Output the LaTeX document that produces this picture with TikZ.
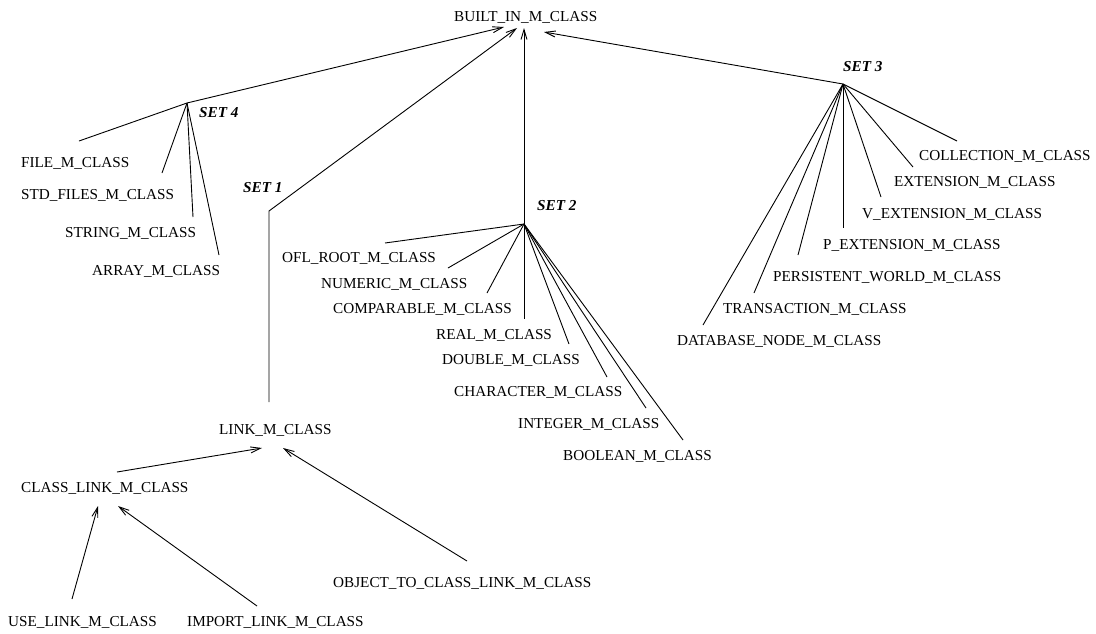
\documentclass[tikz,border=0pt]{standalone}
\usepackage{fontspec}
\setmainfont{Liberation Serif}
\usetikzlibrary{arrows.meta}
\begin{document}
\begin{tikzpicture}[x=1pt,y=-1pt,
  cls/.style={anchor=base west,inner sep=0pt,font=\fontsize{15.2}{18}\selectfont},
  setlbl/.style={cls,font=\fontsize{15.2}{18}\selectfont\bfseries\itshape},
  edge/.style={line width=0.9pt},
  arr/.style={edge,-{Straight Barb[length=10pt,width=6pt]}}]
\useasboundingbox (0,0) rectangle (1096,633);

% class names
\node[cls] (built) at (454,21) {BUILT\_IN\_M\_CLASS};
\node[cls] (file) at (21,167) {FILE\_M\_CLASS};
\node[cls] (stdfiles) at (21,199) {STD\_FILES\_M\_CLASS};
\node[cls] (string) at (65,237) {STRING\_M\_CLASS};
\node[cls] (array) at (92,275) {ARRAY\_M\_CLASS};
\node[cls] (link) at (219,434) {LINK\_M\_CLASS};
\node[cls] (classlink) at (21,492) {CLASS\_LINK\_M\_CLASS};
\node[cls] (uselink) at (8,626) {USE\_LINK\_M\_CLASS};
\node[cls] (importlink) at (187,626) {IMPORT\_LINK\_M\_CLASS};
\node[cls] (objlink) at (333,587) {OBJECT\_TO\_CLASS\_LINK\_M\_CLASS};
\node[cls] (oflroot) at (282,262) {OFL\_ROOT\_M\_CLASS};
\node[cls] (numeric) at (321,288) {NUMERIC\_M\_CLASS};
\node[cls] (comparable) at (333,313) {COMPARABLE\_M\_CLASS};
\node[cls] (real) at (436,339) {REAL\_M\_CLASS};
\node[cls] (double) at (442,364) {DOUBLE\_M\_CLASS};
\node[cls] (character) at (454,396) {CHARACTER\_M\_CLASS};
\node[cls] (integer) at (518,428) {INTEGER\_M\_CLASS};
\node[cls] (boolean) at (563,460) {BOOLEAN\_M\_CLASS};
\node[cls] (collection) at (919,160) {COLLECTION\_M\_CLASS};
\node[cls] (extension) at (894,186) {EXTENSION\_M\_CLASS};
\node[cls] (vext) at (862,218) {V\_EXTENSION\_M\_CLASS};
\node[cls] (pext) at (823,249) {P\_EXTENSION\_M\_CLASS};
\node[cls] (persistent) at (773,281) {PERSISTENT\_WORLD\_M\_CLASS};
\node[cls] (transaction) at (723,313) {TRANSACTION\_M\_CLASS};
\node[cls] (database) at (677,345) {DATABASE\_NODE\_M\_CLASS};

% set labels
\node[setlbl] (set4) at (199,117) {SET 4};
\node[setlbl] (set1) at (243,192) {SET 1};
\node[setlbl] (set2) at (537,210) {SET 2};
\node[setlbl] (set3) at (843,71) {SET 3};

% junction points
\coordinate (j4) at (187,103);
\coordinate (j1) at (269,211);
\coordinate (j2) at (524,224);
\coordinate (j3) at (843,84);

% arrow tips under BUILT_IN_M_CLASS
\coordinate (t4) at (504,27);
\coordinate (t1) at (517,28);
\coordinate (t2) at (524,28);
\coordinate (t3) at (544,32);

% line ends near the member classes
\coordinate (fileE) at (79,141);
\coordinate (stdfilesE) at (162,173);
\coordinate (stringE) at (193,217);
\coordinate (arrayE) at (219,255);
\coordinate (linkTop) at (269,402);
\coordinate (oflrootE) at (385,243);
\coordinate (numericE) at (448,268);
\coordinate (comparableE) at (487,293);
\coordinate (realE) at (524,319);
\coordinate (doubleE) at (569,344);
\coordinate (characterE) at (607,377);
\coordinate (integerE) at (646,408);
\coordinate (booleanE) at (683,440);
\coordinate (collectionE) at (957,141);
\coordinate (extensionE) at (913,167);
\coordinate (vextE) at (881,197);
\coordinate (pextE) at (843,228);
\coordinate (persistentE) at (798,255);
\coordinate (transactionE) at (754,293);
\coordinate (databaseE) at (703,325);

% link hierarchy ends
\coordinate (linkInL) at (262,448);
\coordinate (linkInR) at (283,448);
\coordinate (classlinkOut) at (117,472);
\coordinate (objlinkOut) at (467,561);
\coordinate (classlinkInL) at (98,506);
\coordinate (classlinkInR) at (118,506);
\coordinate (uselinkOut) at (72,599);
\coordinate (importlinkOut) at (257,606);

% SET 4
\draw[edge] (fileE) -- (j4);
\draw[arr] (j4) -- (t4);
\draw[edge] (stdfilesE) -- (j4);
\draw[edge] (stringE) -- (j4);
\draw[edge] (arrayE) -- (j4);

% SET 1
\draw[arr] (linkTop) -- (j1) -- (t1);

% SET 2
\draw[arr] (j2) -- (t2);
\foreach \e in {oflrootE,numericE,comparableE,realE,doubleE,characterE,integerE,booleanE}
  \draw[edge] (j2) -- (\e);

% SET 3
\draw[arr] (j3) -- (t3);
\foreach \e in {collectionE,extensionE,vextE,pextE,persistentE,transactionE,databaseE}
  \draw[edge] (j3) -- (\e);

% links
\draw[arr] (classlinkOut) -- (linkInL);
\draw[arr] (objlinkOut) -- (linkInR);
\draw[arr] (uselinkOut) -- (classlinkInL);
\draw[arr] (importlinkOut) -- (classlinkInR);
\end{tikzpicture}
\end{document}
